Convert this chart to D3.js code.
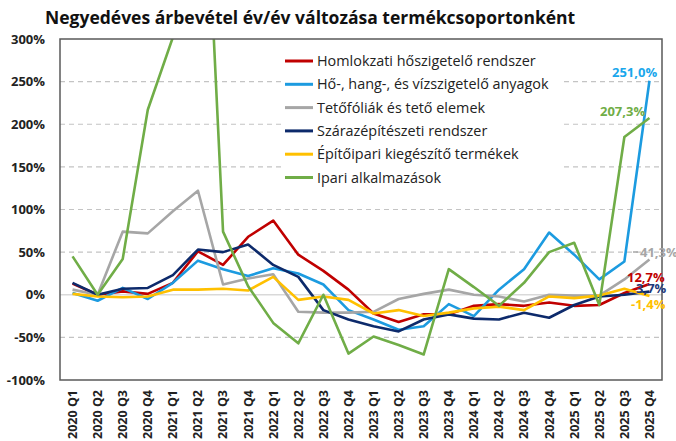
<!DOCTYPE html>
<html>
<head>
<meta charset="utf-8">
<script src="https://cdn.jsdelivr.net/npm/d3@7"></script>
<style>
  body { margin: 0; background: #fff; }
  text { font-family: "Open Sans", sans-serif; }
</style>
</head>
<body>
<svg id="chart"></svg>
<script>
// quarters on the x axis
var quarters = ["2020 Q1", "2020 Q2", "2020 Q3", "2020 Q4", "2021 Q1", "2021 Q2", "2021 Q3", "2021 Q4",
  "2022 Q1", "2022 Q2", "2022 Q3", "2022 Q4", "2023 Q1", "2023 Q2", "2023 Q3", "2023 Q4",
  "2024 Q1", "2024 Q2", "2024 Q3", "2024 Q4", "2025 Q1", "2025 Q2", "2025 Q3", "2025 Q4"];

// yoy change, %
var homlokzati = [13, 0, 4, 1, 14, 51, 35, 68, 87, 47, 28, 6, -22, -32, -23, -23, -13, -11, -13, -9, -13, -12, 2, 12.7];
var hoszigetelo = [2, -7, 8, -5, 14, 40, 30, 22, 31, 25, 12, -18, -29, -41, -37, -11, -25, 6, 30, 73, 47, 18, 39, 251.0];
var tetofolia = [6, 0, 74, 72, 98, 122, 12, 19, 24, -20, -21, -21, -20, -5, 1, 6, 0, -2, -8, 0, -1, -1, 18, 41.3];
var szarazepito = [14, 0, 7, 8, 23, 53, 50, 59, 35, 21, -18, -29, -37, -43, -29, -23, -28, -29, -21, -27, -12, -2, 0, 3.7];
var epitoipari = [1, -2, -3, -2, 6, 6, 7, 5, 21, -6, -2, -6, -22, -18, -25, -21, -16, -14, -18, -2, -4, -1, 7, -1.4];
var ipari = [45, 0, 42, 217, 302, 690, 74, 10, -33, -57, 0, -69, -49, -59, -70, 30, 9, -13, 14, 50, 61, -12, 185, 207.3];

var seriesNames = ["Homlokzati hőszigetelő rendszer", "Hő-, hang-, és vízszigetelő anyagok", "Tetőfóliák és tető elemek",
  "Szárazépítészeti rendszer", "Építőipari kiegészítő termékek", "Ipari alkalmazások"];
var seriesColors = ["#c00000", "#1c9be0", "#a6a6a6", "#0d2a6b", "#ffc000", "#70ad47"];
var endLabels = ["12,7%", "251,0%", "41,3%", "3,7%", "-1,4%", "207,3%"];
var yTicks = [-100, -50, 0, 50, 100, 150, 200, 250, 300];

var allValues = [homlokzati, hoszigetelo, tetofolia, szarazepito, epitoipari, ipari];

var width = 676, height = 441;
var plot = { left: 60, right: 662, top: 39, bottom: 380 };

var svg = d3.select("#chart").attr("width", width).attr("height", height);

var x = d3.scalePoint().domain(quarters).range([plot.left, plot.right]).padding(0.5);
var y = d3.scaleLinear().domain([-100, 300]).range([plot.bottom, plot.top]);

// title
svg.append("text")
  .attr("x", 45).attr("y", 24)
  .style("font-size", "17.5px").style("font-weight", "bold").style("fill", "#111")
  .text("Negyedéves árbevétel év/év változása termékcsoportonként");

// grid
svg.append("g").selectAll("line")
  .data(yTicks.filter(function (d) { return d != 0 && d != 300 && d != -100; }))
  .enter().append("line")
  .attr("x1", plot.left).attr("x2", plot.right)
  .attr("y1", function (d) { return y(d); }).attr("y2", function (d) { return y(d); })
  .style("stroke", "#c4c4c4").style("stroke-width", 1.2).style("stroke-dasharray", "5,4");

svg.append("line")
  .attr("x1", plot.left).attr("x2", plot.right)
  .attr("y1", y(0)).attr("y2", y(0))
  .style("stroke", "#d9d9d9").style("stroke-width", 1.5);

// y axis labels
var yAxis = svg.append("g")
  .attr("transform", "translate(" + (plot.left - 15) + ",0)")
  .call(d3.axisLeft(y).tickValues(yTicks).tickSize(0).tickFormat(function (d) { return d + "%"; }));
yAxis.select(".domain").remove();
yAxis.selectAll("text")
  .attr("x", 0)
  .style("font-family", "Open Sans, sans-serif")
  .style("font-size", "13px").style("font-weight", "bold").style("fill", "#222");

// x axis labels
svg.append("g").selectAll("text")
  .data(quarters)
  .enter().append("text")
  .attr("transform", function (d) { return "translate(" + x(d) + ",390) rotate(-90)"; })
  .attr("dy", "0.35em")
  .attr("text-anchor", "end")
  .style("font-size", "12.5px").style("font-weight", "bold").style("fill", "#222")
  .text(function (d) { return d; });

// lines, clipped to plot area
svg.append("clipPath").attr("id", "clip")
  .append("rect")
  .attr("x", plot.left).attr("y", plot.top)
  .attr("width", plot.right - plot.left).attr("height", plot.bottom - plot.top);

var line = d3.line()
  .x(function (d, i) { return x(quarters[i]); })
  .y(function (d) { return y(d); });

var lines = svg.append("g").attr("clip-path", "url(#clip)");
lines.selectAll("path")
  .data(allValues)
  .enter().append("path")
  .attr("d", line)
  .style("fill", "none")
  .style("stroke", function (d, i) { return seriesColors[i]; })
  .style("stroke-width", 2.6)
  .style("stroke-linejoin", "round");

// frame
svg.append("rect")
  .attr("x", plot.left).attr("y", plot.top)
  .attr("width", plot.right - plot.left).attr("height", plot.bottom - plot.top)
  .style("fill", "none").style("stroke", "#595959").style("stroke-width", 1.5);

// legend
var legend = svg.append("g");
legend.append("rect")
  .attr("x", 282).attr("y", 48).attr("width", 278).attr("height", 142)
  .style("fill", "#fff");
var item = legend.selectAll(".item")
  .data(seriesNames)
  .enter().append("g")
  .attr("class", "item")
  .attr("transform", function (d, i) { return "translate(285," + (61 + i * 23.3) + ")"; });
item.append("line")
  .attr("x1", 0).attr("x2", 28)
  .style("stroke", function (d, i) { return seriesColors[i]; })
  .style("stroke-width", 3);
item.append("text")
  .attr("x", 32).attr("dy", "0.35em")
  .style("font-size", "14.4px").style("fill", "#222")
  .text(function (d) { return d; });

// end labels
var labelPos = [[627, 277], [612, 72], [640, 252], [636, 288], [631, 304], [600, 111]];
var labelColors = ["#c00000", "#1aa7ec", "#a6a6a6", "#1f3a7a", "#ffc000", "#70ad47"];
svg.append("g").selectAll("text")
  .data(endLabels)
  .enter().append("text")
  .attr("x", function (d, i) { return labelPos[i][0]; })
  .attr("y", function (d, i) { return labelPos[i][1]; })
  .attr("dy", "0.35em")
  .style("font-size", "13px").style("font-weight", "bold")
  .style("fill", function (d, i) { return labelColors[i]; })
  .text(function (d) { return d; });
// little leader for the grey label
svg.append("line")
  .attr("x1", 633).attr("x2", 638).attr("y1", 252).attr("y2", 252)
  .style("stroke", "#a6a6a6").style("stroke-width", 1.5);
</script>
</body>
</html>
